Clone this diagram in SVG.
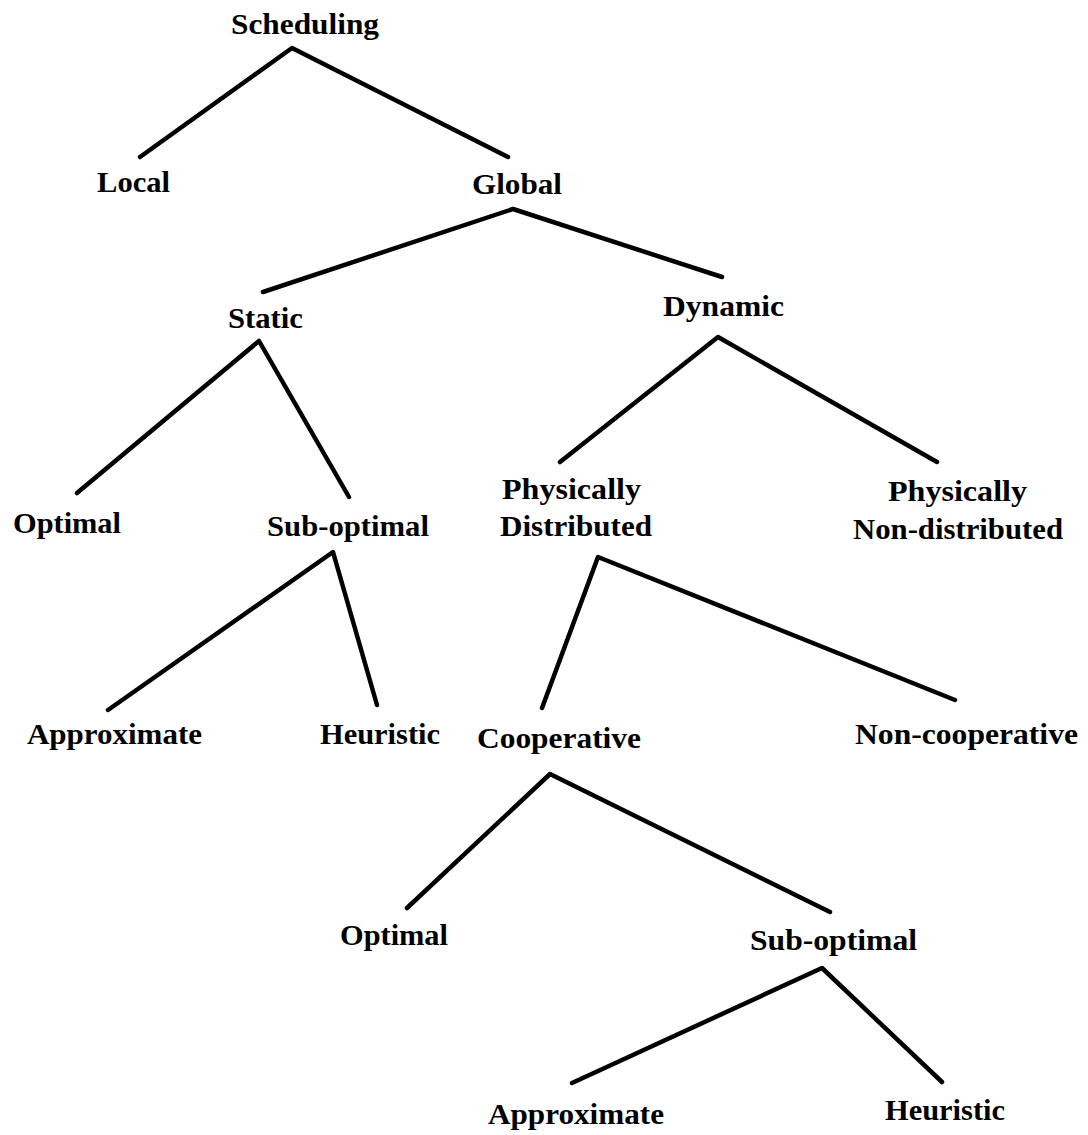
<svg xmlns="http://www.w3.org/2000/svg" width="1088" height="1135" viewBox="0 0 1088 1135">
  <style>
    .lbl { font-family: "Liberation Serif", "Times New Roman", serif; font-weight: bold; font-size: 30px; fill: #000; text-anchor: start; }
    .edge { stroke: #000; stroke-width: 4.5; stroke-linecap: round; stroke-linejoin: round; fill: none; }
  </style>
  <rect width="1088" height="1135" fill="#fff"/>

  <!-- tree branches -->
  <g id="connectors">
    <polyline class="edge" points="140,157 292,48 508,157"/>
    <polyline class="edge" points="263,292 513,209 722,277"/>
    <polyline class="edge" points="77,493 259,341 349,497"/>
    <polyline class="edge" points="560,462 718,337 937,462"/>
    <polyline class="edge" points="108,710 333,552 377,705"/>
    <polyline class="edge" points="542,708 598,557 955,700"/>
    <polyline class="edge" points="407,908 550,774 830,912"/>
    <polyline class="edge" points="572,1083 822,968 942,1082"/>
  </g>

  <!-- labels -->
  <g id="n-scheduling"><text class="lbl" x="231" y="34" textLength="148" lengthAdjust="spacingAndGlyphs">Scheduling</text></g>
  <g id="n-local"><text class="lbl" x="97" y="192" textLength="73" lengthAdjust="spacingAndGlyphs">Local</text></g>
  <g id="n-global"><text class="lbl" x="472" y="194" textLength="90" lengthAdjust="spacingAndGlyphs">Global</text></g>
  <g id="n-static"><text class="lbl" x="228" y="328" textLength="75" lengthAdjust="spacingAndGlyphs">Static</text></g>
  <g id="n-dynamic"><text class="lbl" x="663" y="316" textLength="121" lengthAdjust="spacingAndGlyphs">Dynamic</text></g>
  <g id="n-optimal-1"><text class="lbl" x="13" y="533" textLength="108" lengthAdjust="spacingAndGlyphs">Optimal</text></g>
  <g id="n-suboptimal-1"><text class="lbl" x="267" y="536" textLength="162" lengthAdjust="spacingAndGlyphs">Sub-optimal</text></g>
  <g id="n-phys-dist">
    <text class="lbl" x="502" y="499" textLength="139" lengthAdjust="spacingAndGlyphs">Physically</text>
    <text class="lbl" x="500" y="536" textLength="152" lengthAdjust="spacingAndGlyphs">Distributed</text>
  </g>
  <g id="n-phys-nondist">
    <text class="lbl" x="888" y="501" textLength="139" lengthAdjust="spacingAndGlyphs">Physically</text>
    <text class="lbl" x="853" y="539" textLength="210" lengthAdjust="spacingAndGlyphs">Non-distributed</text>
  </g>
  <g id="n-approx-1"><text class="lbl" x="27" y="744" textLength="175" lengthAdjust="spacingAndGlyphs">Approximate</text></g>
  <g id="n-heuristic-1"><text class="lbl" x="320" y="744" textLength="120" lengthAdjust="spacingAndGlyphs">Heuristic</text></g>
  <g id="n-cooperative"><text class="lbl" x="477" y="748" textLength="164" lengthAdjust="spacingAndGlyphs">Cooperative</text></g>
  <g id="n-noncooperative"><text class="lbl" x="855" y="744" textLength="223" lengthAdjust="spacingAndGlyphs">Non-cooperative</text></g>
  <g id="n-optimal-2"><text class="lbl" x="340" y="945" textLength="108" lengthAdjust="spacingAndGlyphs">Optimal</text></g>
  <g id="n-suboptimal-2"><text class="lbl" x="750" y="950" textLength="167" lengthAdjust="spacingAndGlyphs">Sub-optimal</text></g>
  <g id="n-approx-2"><text class="lbl" x="488" y="1124" textLength="176" lengthAdjust="spacingAndGlyphs">Approximate</text></g>
  <g id="n-heuristic-2"><text class="lbl" x="885" y="1120" textLength="120" lengthAdjust="spacingAndGlyphs">Heuristic</text></g>
</svg>
